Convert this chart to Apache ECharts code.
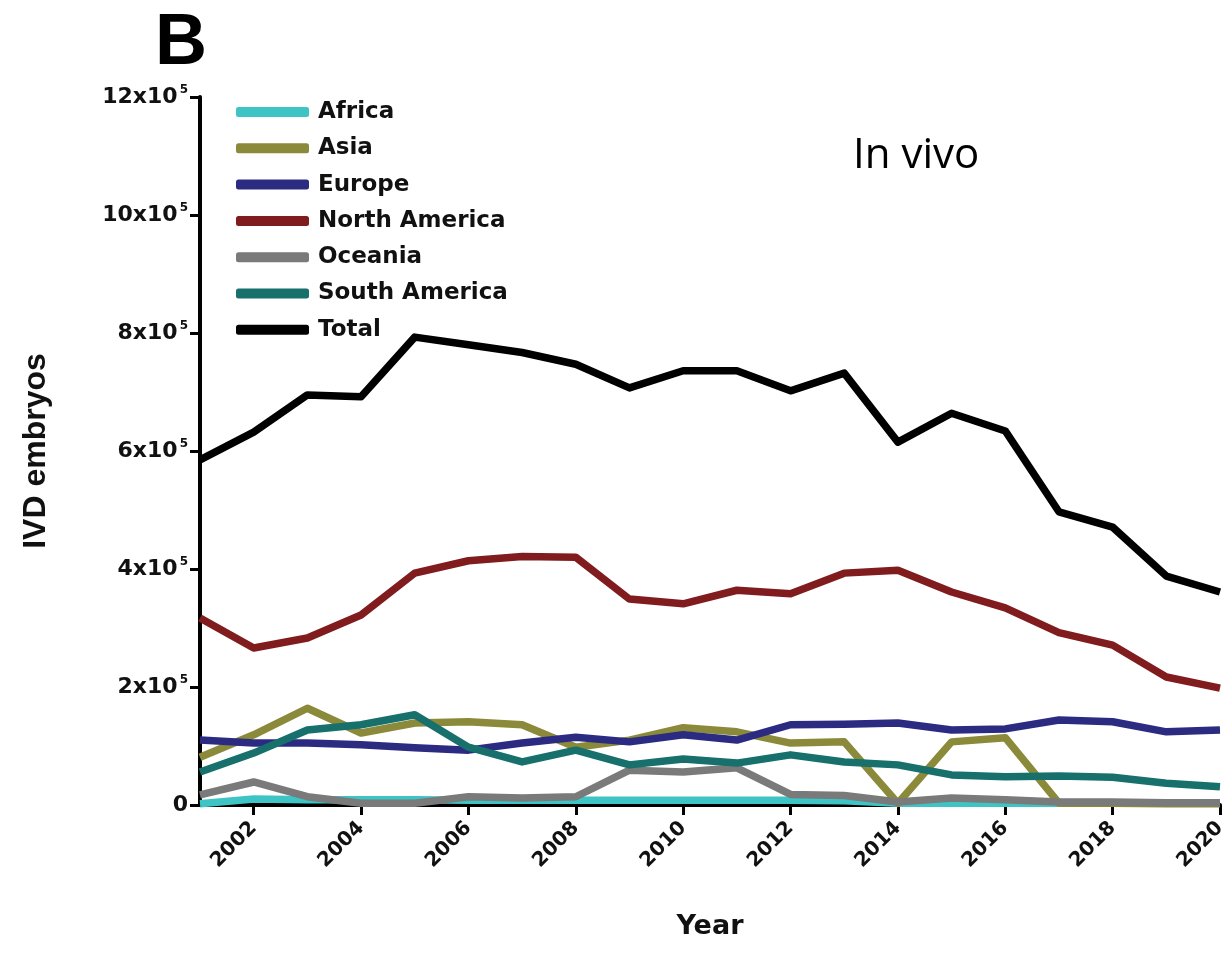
<!DOCTYPE html>
<html>
<head>
<meta charset="utf-8">
<script src="https://cdn.jsdelivr.net/npm/echarts@6/dist/echarts.min.js"></script>
<style>
  html, body { margin: 0; padding: 0; background: #fff; }
  #chart { width: 1231px; height: 953px; }
</style>
</head>
<body>
<div id="chart"></div>
<script>
// years on the x axis
const years = ['2001','2002','2003','2004','2005','2006','2007','2008','2009','2010',
  '2011','2012','2013','2014','2015','2016','2017','2018','2019','2020'];

// IVD embryos per region
const africa = [2000, 10000, 9000, 9000, 9000, 8000, 8000, 8000, 8000, 8000,
  8000, 8000, 7000, 3000, 3000, 3000, 3000, 3000, 3000, 3000];
const asia = [81000, 119000, 164000, 122000, 139000, 141000, 136000, 98000, 110000, 131000,
  124000, 105000, 107000, 3000, 107000, 114000, 3000, 3000, 2000, 2000];
const europe = [110000, 105000, 105000, 102000, 97000, 93000, 105000, 115000, 107000, 119000,
  110000, 136000, 137000, 139000, 127000, 129000, 144000, 141000, 124000, 127000];
const northAmerica = [317000, 266000, 283000, 322000, 393000, 414000, 421000, 420000, 349000, 341000,
  364000, 358000, 393000, 398000, 361000, 334000, 292000, 271000, 217000, 198000];
const oceania = [17000, 39000, 14000, 3000, 3000, 14000, 12000, 14000, 59000, 56000,
  63000, 18000, 16000, 5000, 12000, 9000, 5000, 5000, 4000, 4000];
const southAmerica = [56000, 88000, 127000, 136000, 153000, 98000, 73000, 93000, 68000, 78000,
  71000, 85000, 73000, 68000, 51000, 48000, 49000, 47000, 37000, 31000];
const total = [585000, 632000, 695000, 692000, 793000, 780000, 767000, 747000, 707000, 736000,
  736000, 702000, 732000, 615000, 664000, 634000, 497000, 471000, 388000, 361000];

const seriesNames = ['Africa', 'Asia', 'Europe', 'North America', 'Oceania', 'South America', 'Total'];
const seriesData = [africa, asia, europe, northAmerica, oceania, southAmerica, total];
const seriesColors = ['#3ec4c4', '#8a8a3a', '#2b2b82', '#801c1e', '#7a7a7a', '#17706b', '#000000'];

const myChart = echarts.init(document.getElementById('chart'));

const narrow = 'Liberation Sans, Arial, sans-serif';
const wide = 'DejaVu Sans, sans-serif';

const option = {
  animation: false,
  textStyle: { fontFamily: wide },
  title: [
    {
      text: 'B',
      left: 150, top: 3,
      textStyle: { fontSize: 72, fontWeight: 'bold', color: '#000', fontFamily: narrow }
    },
    {
      text: 'In vivo',
      left: 848, top: 130,
      textStyle: { fontSize: 42, fontWeight: 'normal', color: '#000', fontFamily: 'Open Sans, sans-serif' }
    }
  ],
  legend: {
    orient: 'vertical',
    left: 231,
    top: 94,
    icon: 'roundRect',
    itemWidth: 73,
    itemHeight: 10,
    itemGap: 10.3,
    textStyle: { fontSize: 23, fontWeight: 'bold', color: '#111', lineHeight: 26, fontFamily: wide, padding: [0, 0, 0, 4] },
    data: seriesNames
  },
  grid: { left: 200, right: 11, top: 97, bottom: 148 },
  xAxis: {
    type: 'category',
    boundaryGap: false,
    data: years,
    name: 'Year',
    nameLocation: 'middle',
    nameGap: 108,
    nameTextStyle: { fontSize: 27, fontWeight: 'bold', color: '#111', fontFamily: wide },
    axisLine: { lineStyle: { color: '#000', width: 4 } },
    axisTick: {
      length: 10,
      lineStyle: { width: 3, color: '#000' },
      interval: (i, v) => Number(v) % 2 === 0
    },
    axisLabel: {
      rotate: 45,
      fontSize: 20,
      fontWeight: 'bold',
      color: '#111',
      margin: 20,
      fontFamily: wide,
      interval: (i, v) => Number(v) % 2 === 0
    },
    splitLine: { show: false }
  },
  yAxis: {
    type: 'value',
    min: 0,
    max: 1200000,
    interval: 200000,
    name: 'IVD embryos',
    nameLocation: 'middle',
    nameGap: 148,
    nameRotate: 90,
    nameTextStyle: { fontSize: 32, fontWeight: 'bold', color: '#111', fontFamily: narrow },
    axisLine: { show: true, lineStyle: { color: '#000', width: 4 } },
    axisTick: { show: true, length: 10, lineStyle: { width: 3, color: '#000' } },
    axisLabel: {
      margin: 12,
      color: '#111',
      formatter: v => v === 0 ? '{b|0}' : '{b|' + (v / 100000) + 'x10}{s|5}',
      rich: {
        b: { fontSize: 22, fontWeight: 'bold', color: '#111', fontFamily: wide },
        s: { fontSize: 12, fontWeight: 'bold', color: '#111', fontFamily: wide, padding: [0, 0, 14, 2] }
      }
    },
    splitLine: { show: false }
  },
  series: seriesNames.map((name, i) => ({
    name: name,
    type: 'line',
    data: seriesData[i],
    showSymbol: false,
    symbol: 'none',
    itemStyle: { color: seriesColors[i] },
    lineStyle: { color: seriesColors[i], width: 7.5, join: 'round' }
  }))
};

option && myChart.setOption(option);
</script>
</body>
</html>
